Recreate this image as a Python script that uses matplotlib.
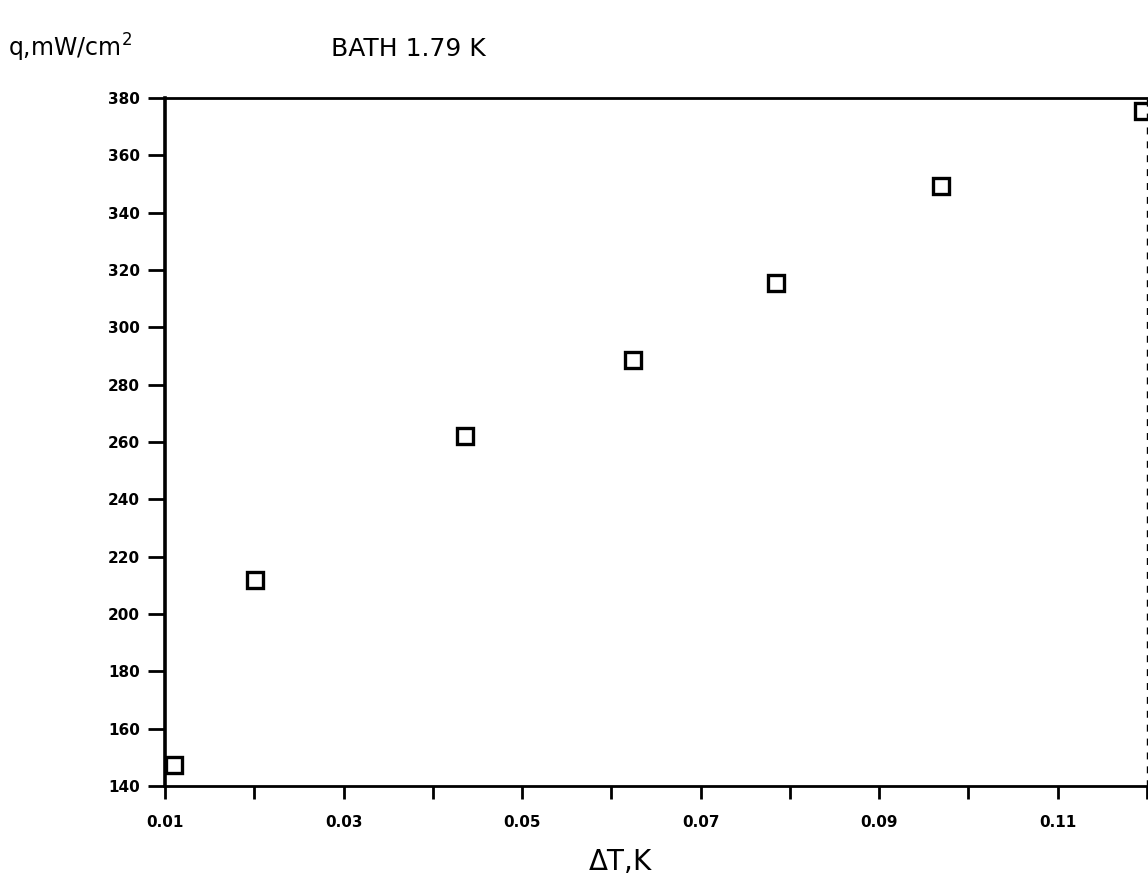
import matplotlib
matplotlib.use('Agg')
import matplotlib.pyplot as plt
import numpy as np

# heat flux vs temperature difference, bath at 1.79 K
dT = [0.0110, 0.0201, 0.0436, 0.0624, 0.0785, 0.0969, 0.1195]
q = [147.3, 211.9, 262.2, 288.7, 315.6, 349.4, 375.3]

x_major = [0.01, 0.03, 0.05, 0.07, 0.09, 0.11]
x_minor = [0.02, 0.04, 0.06, 0.08, 0.10, 0.12]
y_ticks = [140, 160, 180, 200, 220, 240, 260, 280, 300, 320, 340, 360, 380]

plt.rcParams['font.family'] = 'DejaVu Sans'

fig = plt.figure(figsize=(11.48, 8.91), dpi=100)
ax = fig.add_axes([0.1437, 0.1178, 0.8554, 0.7722])

ax.plot(dT, q, ls='none', marker='s', ms=11, mfc='white', mec='black', mew=2.4)

ax.set_xlim(0.01, 0.12)
ax.set_ylim(140, 380)

ax.set_xticks(x_major)
ax.set_xticklabels(['%.2f' % v for v in x_major])
ax.set_xticks(x_minor, minor=True)
ax.set_yticks(y_ticks)
ax.set_yticklabels([str(v) for v in y_ticks])

ax.tick_params(axis='both', which='both', direction='out', width=2, colors='black')
ax.tick_params(axis='x', which='both', length=9, pad=12, labelsize=11)
ax.tick_params(axis='y', length=12, pad=6, labelsize=11)
for lab in ax.get_xticklabels() + ax.get_yticklabels():
    lab.set_fontweight('bold')

ax.spines['left'].set_linewidth(2.6)
for s in ['top', 'bottom']:
    ax.spines[s].set_linewidth(2.0)
ax.spines['right'].set_linewidth(1.0)
ax.spines['right'].set_linestyle((0, (4, 6)))

fig.text(0.007, 0.937, 'q,mW/cm$^2$', fontsize=17, ha='left', va='baseline')
fig.text(0.288, 0.937, 'BATH 1.79 K', fontsize=18, ha='left', va='baseline')
fig.text(0.541, 0.024, r'$\Delta$T,K', fontsize=20, ha='center', va='baseline')

fig.savefig('out.png', dpi=100, facecolor='white')
